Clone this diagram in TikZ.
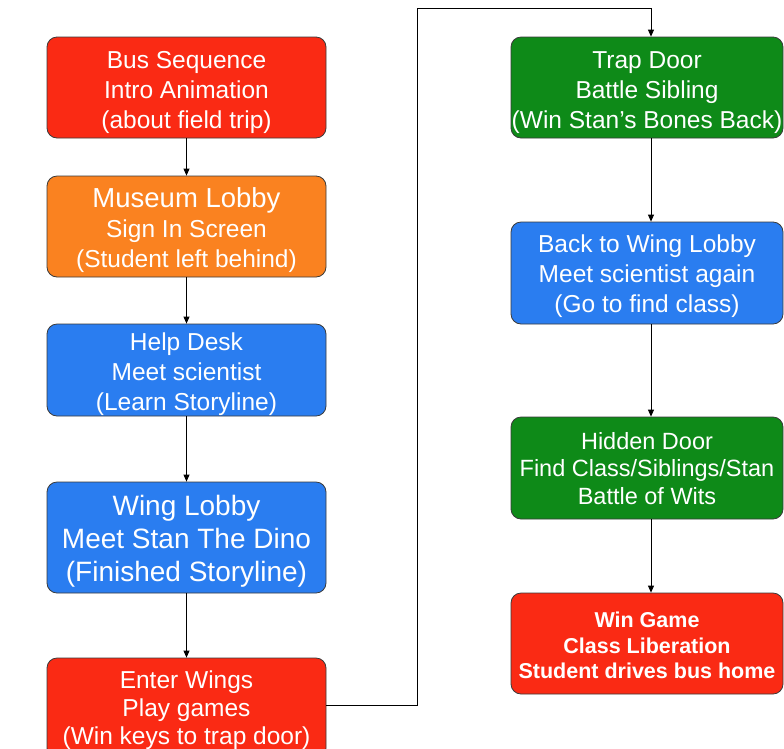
\documentclass[tikz,border=0pt]{standalone}
\usepackage{fontspec}
\setmainfont{Liberation Sans}
\usetikzlibrary{arrows.meta}
\definecolor{cred}{HTML}{FA2A14}
\definecolor{corange}{HTML}{FA8220}
\definecolor{cblue}{HTML}{2A7DF0}
\definecolor{cgreen}{HTML}{0E8A18}
\definecolor{cborder}{HTML}{3A3A3A}
\tikzset{
  box/.style={draw=cborder, line width=0.8pt, rounded corners=10pt, inner sep=0pt},
  lbox/.style={box, minimum width=279pt},
  rbox/.style={box, minimum width=272pt},
  txt/.style={text=white, align=center, inner sep=0pt, font=\fontsize{24.5}{30}\selectfont},
  conn/.style={line width=0.8pt, -{Triangle[length=7pt,width=6pt]}}
}
\begin{document}
\begin{tikzpicture}[x=1pt,y=-1pt]
\useasboundingbox (0,0) rectangle (784,748);
\begin{scope}
\clip (0,0) rectangle (784,748);
% left column
\node[lbox, fill=cred, minimum height=101pt] (b1) at (186.5,87.5) {};
\node[txt] (b1t) at (186.5,92.5) {Bus Sequence\\Intro Animation\\(about field trip)};
\node[lbox, fill=corange, minimum height=101pt] (b2) at (186.5,226.5) {};
\node[txt] (b2t) at (186.5,230.5) {{\fontsize{27.5}{33}\selectfont Museum Lobby}\\Sign In Screen\\(Student left behind)};
\node[lbox, fill=cblue, minimum height=92pt] (b3) at (186.5,370) {};
\node[txt] (b3t) at (186.5,374) {Help Desk\\Meet scientist\\(Learn Storyline)};
\node[lbox, fill=cblue, minimum height=111pt] (b4) at (186.5,537.5) {};
\node[txt, font=\fontsize{28}{33}\selectfont] (b4t) at (186.5,541.5) {Wing Lobby\\Meet Stan The Dino\\(Finished Storyline)};
\node[lbox, fill=cred, minimum height=100pt] (b5) at (186.5,708) {};
\node[txt, font=\fontsize{24.5}{28}\selectfont] (b5t) at (186.5,710) {Enter Wings\\Play games\\(Win keys to trap door)};
% right column
\node[rbox, fill=cgreen, minimum height=101pt] (r1) at (647,87.5) {};
\node[txt] (r1t) at (647,92.5) {Trap Door\\Battle Sibling\\(Win Stan’s Bones Back)};
\node[rbox, fill=cblue, minimum height=102pt] (r2) at (647,273) {};
\node[txt] (r2t) at (647,276) {Back to Wing Lobby\\Meet scientist again\\(Go to find class)};
\node[rbox, fill=cgreen, minimum height=102pt] (r3) at (647,468) {};
\node[txt, font=\fontsize{23.5}{27.5}\selectfont] (r3t) at (647,468.5) {Hidden Door\\Find Class/Siblings/Stan\\Battle of Wits};
\node[rbox, fill=cred, minimum height=101pt] (r4) at (647,643.5) {};
\node[txt, font=\bfseries\fontsize{21.5}{25.5}\selectfont] (r4t) at (647,645.5) {Win Game\\Class Liberation\\Student drives bus home};
\end{scope}
% connectors
\draw[conn] (b1) -- (b2);
\draw[conn] (b2) -- (b3);
\draw[conn] (b3) -- (b4);
\draw[conn] (b4) -- (b5);
\coordinate (t1) at (417,705);
\coordinate (t2) at (417,8);
\coordinate (t3) at (651,8);
\draw[conn] (b5.east |- t1) -- (t1) -- (t2) -- (t3) -- (t3 |- r1.north);
\draw[conn] ([xshift=4pt]r1.south) -- ([xshift=4pt]r2.north);
\draw[conn] ([xshift=4pt]r2.south) -- ([xshift=4pt]r3.north);
\draw[conn] ([xshift=4pt]r3.south) -- ([xshift=4pt]r4.north);
\end{tikzpicture}
\end{document}
